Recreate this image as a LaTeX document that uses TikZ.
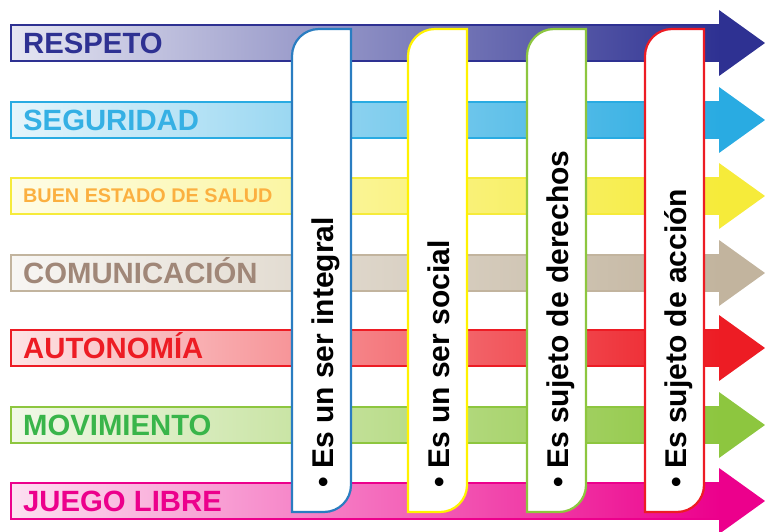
\documentclass[tikz,border=0pt]{standalone}
\usepackage{fontspec}
\setmainfont{Liberation Sans}
\usepackage{tikz}
\usetikzlibrary{positioning}
\definecolor{RespetoBlue}{HTML}{2E3192}
\definecolor{SeguridadCyan}{HTML}{29ABE2}
\definecolor{SeguridadText}{HTML}{35B0E4}
\definecolor{SaludYellow}{HTML}{F6EB3A}
\definecolor{SaludText}{HTML}{FBB040}
\definecolor{ComunTan}{HTML}{C2B49E}
\definecolor{ComunText}{HTML}{A08778}
\definecolor{AutonomiaRed}{HTML}{ED1C24}
\definecolor{MovGreen}{HTML}{8DC63F}
\definecolor{MovText}{HTML}{39B54A}
\definecolor{JuegoPink}{HTML}{EC008C}
\definecolor{CardBlue}{HTML}{2A7DC1}
\definecolor{CardYellow}{HTML}{FFF200}
\definecolor{CardGreen}{HTML}{8DC63F}
\definecolor{CardRed}{HTML}{ED1C24}

\begin{document}
\begin{tikzpicture}[
        x=1pt, y=1pt,
        shaft/.style={line width=2pt},
        rowlabel/.style={anchor=base west, inner sep=0pt},
        cardbox/.style={fill=white, line width=2.2pt},
        cardtext/.style={
            rotate=90, anchor=base west, inner sep=0pt,
            font=\fontsize{30}{32}\selectfont\bfseries
        }
    ]
        \useasboundingbox (0,0) rectangle (765,531);

        % the seven arrows
        \foreach \y/\col/\txt/\tcol/\name/\fs in {
            488/RespetoBlue/RESPETO/RespetoBlue/respeto/29.3,
            411/SeguridadCyan/SEGURIDAD/SeguridadText/seguridad/29.3,
            335/SaludYellow/BUEN ESTADO DE SALUD/SaludText/salud/19.8,
            258/ComunTan/COMUNICACIÓN/ComunText/comunicacion/29.3,
            183/AutonomiaRed/AUTONOMÍA/AutonomiaRed/autonomia/29.3,
            106/MovGreen/MOVIMIENTO/MovText/movimiento/29.3,
            30/JuegoPink/JUEGO LIBRE/JuegoPink/juego/29.3}{
            \shade[left color=\col!12, right color=\col] (11,\y-18) rectangle (720,\y+18);
            \draw[shaft, \col] (11,\y-18) rectangle (720,\y+18);
            \fill[\col] (719,\y-33) -- (765,\y) -- (719,\y+33) -- cycle;
            \node[rowlabel, text=\tcol, font=\fontsize{\fs}{\fs}\selectfont\bfseries]
                (\name) at (23,{\y-0.35*\fs}) {\txt};
        }

        % the four cards
        \foreach \x/\col/\txt/\name in {
            292/CardBlue/{Es un ser integral}/integral,
            408/CardYellow/{Es un ser social}/social,
            527/CardGreen/{Es sujeto de derechos}/derechos,
            645/CardRed/{Es sujeto de acción}/accion}{
            \draw[cardbox, draw=\col] (\x,19) -- (\x,475)
                arc[start angle=180, end angle=90, radius=27pt] -- (\x+59,502)
                -- (\x+59,46) arc[start angle=0, end angle=-90, radius=27pt] -- cycle;
            \node[cardtext] (\name) at (\x+41,43) {• \txt};
        }
    \end{tikzpicture}
\end{document}
